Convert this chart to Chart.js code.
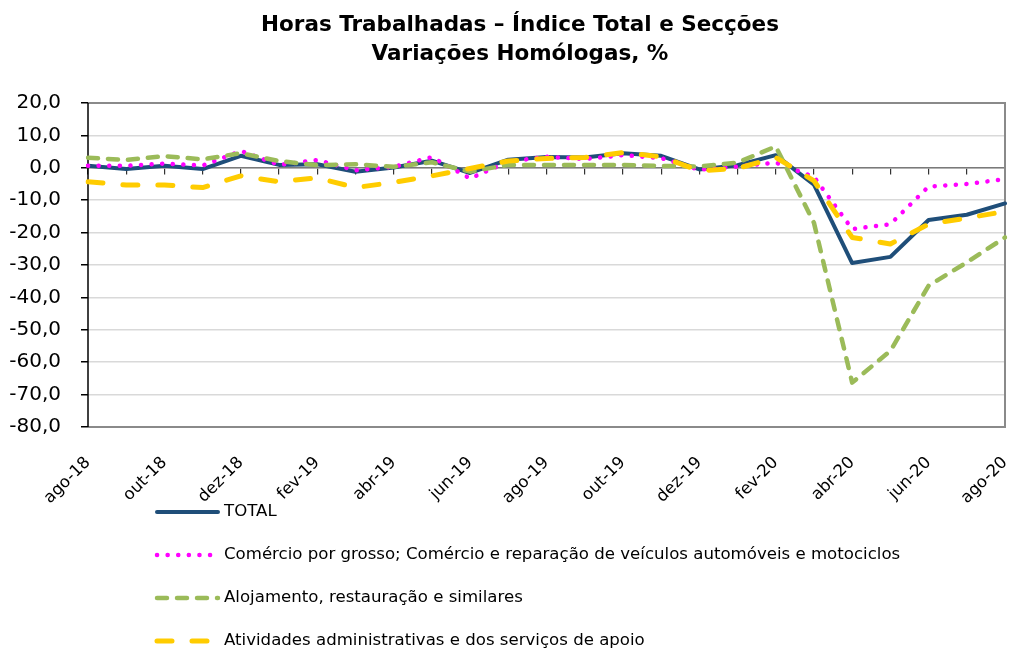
<!DOCTYPE html>
<html>
<head>
<meta charset="utf-8">
<script src="https://cdn.jsdelivr.net/npm/chart.js@4/dist/chart.umd.min.js"></script>
<style>
  body { margin: 0; background: #fff; }
  canvas { display: block; }
</style>
</head>
<body>
<canvas id="grafico" width="1011" height="650"></canvas>
<script>
// meses (ago-18 .. ago-20)
const meses = ['ago-18', 'set-18', 'out-18', 'nov-18', 'dez-18', 'jan-19', 'fev-19', 'mar-19', 'abr-19',
    'mai-19', 'jun-19', 'jul-19', 'ago-19', 'set-19', 'out-19', 'nov-19', 'dez-19', 'jan-20', 'fev-20',
    'mar-20', 'abr-20', 'mai-20', 'jun-20', 'jul-20', 'ago-20'];

const total = [0.6, -0.4, 0.6, -0.4, 3.7, 0.9, 1.1, -1.2, 0.1, 2.2, -1.6, 2.5, 3.3, 3.2, 4.5, 3.7,
    -0.5, 0.8, 3.9, -5.2, -29.4, -27.5, -16.1, -14.5, -11.0];
const comercio = [0.6, 0.6, 1.3, 0.7, 5.2, 0.9, 2.4, -0.8, 0.3, 3.3, -3.3, 1.9, 3.4, 2.7, 3.9, 3.0,
    -0.6, 0.4, 1.6, -2.8, -18.9, -17.4, -5.8, -5.0, -3.5];
const alojamento = [3.1, 2.4, 3.6, 2.6, 4.5, 2.1, 0.8, 1.1, 0.3, 1.7, -1.2, 0.9, 0.9, 0.9, 0.9, 0.6,
    0.4, 1.6, 6.6, -17.0, -66.3, -56.5, -36.4, -29.2, -21.5];
const atividades = [-4.3, -5.3, -5.3, -6.1, -2.5, -4.3, -3.1, -6.1, -4.5, -2.5, -0.2, 2.1, 2.9, 3.2, 4.7, 3.4,
    -0.9, -0.2, 3.2, -4.0, -21.5, -23.5, -17.4, -15.5, -13.5];

const tituloLinhas = ['Horas Trabalhadas – Índice Total e Secções', 'Variações Homólogas, %'];

const FONTE = "'DejaVu Sans', Verdana, sans-serif";

// título (um pouco à direita do centro, como no original)
const titulo = {
    id: 'titulo',
    afterDraw(chart) {
        const ctx = chart.ctx;
        ctx.save();
        ctx.fillStyle = '#000';
        ctx.font = 'bold 21.5px ' + FONTE;
        ctx.textAlign = 'center';
        ctx.textBaseline = 'middle';
        tituloLinhas.forEach((t, i) => ctx.fillText(t, 520, 25 + i * 29));
        ctx.restore();
    }
};

// legenda desenhada à mão, uma série por linha
const legendaVertical = {
    id: 'legendaVertical',
    afterDraw(chart) {
        const ctx = chart.ctx;
        const area = chart.chartArea;
        const x0 = 157, largura = 61;
        let y = area.bottom + 85;
        ctx.save();
        chart.data.datasets.forEach(ds => {
            ctx.beginPath();
            ctx.strokeStyle = ds.borderColor;
            ctx.lineWidth = ds.borderWidth;
            ctx.lineCap = ds.borderCapStyle || 'butt';
            ctx.setLineDash(ds.borderDash || []);
            ctx.moveTo(x0, y);
            ctx.lineTo(x0 + largura, y);
            ctx.stroke();
            ctx.setLineDash([]);
            ctx.fillStyle = '#000';
            ctx.font = '16.6px ' + FONTE;
            ctx.textBaseline = 'middle';
            ctx.fillText(ds.label, x0 + largura + 6, y);
            y += 43;
        });
        ctx.restore();
    }
};

// moldura cinzenta da área do gráfico
const moldura = {
    id: 'moldura',
    beforeDatasetsDraw(chart) {
        const {ctx, chartArea: a} = chart;
        ctx.save();
        ctx.strokeStyle = '#8a8a8a';
        ctx.lineWidth = 2;
        ctx.beginPath();
        ctx.moveTo(a.left, a.top);
        ctx.lineTo(a.right, a.top);
        ctx.lineTo(a.right, a.bottom);
        ctx.lineTo(a.left, a.bottom);
        ctx.stroke();
        ctx.strokeStyle = '#000';
        ctx.lineWidth = 1.5;
        ctx.beginPath();
        ctx.moveTo(a.left, a.top);
        ctx.lineTo(a.left, a.bottom);
        ctx.stroke();
        ctx.restore();
    }
};

new Chart(document.getElementById('grafico'), {
    type: 'line',
    data: {
        labels: meses,
        datasets: [{
            label: 'TOTAL',
            data: total,
            borderColor: '#1f4e79',
            borderWidth: 4,
            borderCapStyle: 'round',
            order: 4
        }, {
            label: 'Comércio por grosso; Comércio e reparação de veículos automóveis e motociclos',
            data: comercio,
            borderColor: '#ff00ff',
            borderWidth: 4.5,
            borderDash: [0.1, 10.5],
            borderCapStyle: 'round',
            order: 3
        }, {
            label: 'Alojamento, restauração e similares',
            data: alojamento,
            borderColor: '#9bbb59',
            borderWidth: 4.5,
            borderDash: [10, 10],
            borderCapStyle: 'round',
            order: 2
        }, {
            label: 'Atividades administrativas e dos serviços de apoio',
            data: atividades,
            borderColor: '#ffcc00',
            borderWidth: 5,
            borderDash: [15, 20],
            borderCapStyle: 'round',
            order: 1
        }]
    },
    options: {
        responsive: false,
        animation: false,
        elements: {
            point: { radius: 0 },
            line: { tension: 0, fill: false, borderJoinStyle: 'round' }
        },
        layout: { padding: { left: 0, right: 6, top: 103, bottom: 130 } },
        plugins: {
            legend: { display: false },
            tooltip: { enabled: false },
            title: { display: false }
        },
        scales: {
            x: {
                type: 'category',
                offset: false,
                grid: { display: false },
                border: { display: false },
                ticks: {
                    autoSkip: false,
                    minRotation: 45,
                    maxRotation: 45,
                    padding: 18,
                    color: '#000',
                    font: { family: FONTE, size: 16.5 },
                    callback: (v, i) => (i % 2 === 0 ? meses[i] : '')
                },
                afterFit: s => {
                    s.height = 93;
                    s.paddingLeft = 0;
                    s.paddingRight = 0;
                }
            },
            eixoZero: {
                type: 'category',
                axis: 'x',
                labels: meses,
                offset: false,
                position: { y: 0 },
                ticks: { display: false },
                grid: { drawOnChartArea: false, drawTicks: true, tickLength: 6, color: '#333', lineWidth: 1.2 },
                border: { display: true, color: '#7a7a7a', width: 1.5 }
            },
            y: {
                min: -80,
                max: 20,
                ticks: {
                    stepSize: 10,
                    padding: 20,
                    color: '#000',
                    font: { family: FONTE, size: 20 },
                    callback: v => v.toFixed(1).replace('.', ',')
                },
                grid: { color: '#d9d9d9', lineWidth: 1.5, tickColor: '#000', tickLength: 7 },
                border: { display: false },
                afterFit: s => {
                    s.width = 88;
                    s.paddingTop = 0;
                    s.paddingBottom = 0;
                }
            }
        }
    },
    plugins: [moldura, titulo, legendaVertical]
});
</script>
</body>
</html>
